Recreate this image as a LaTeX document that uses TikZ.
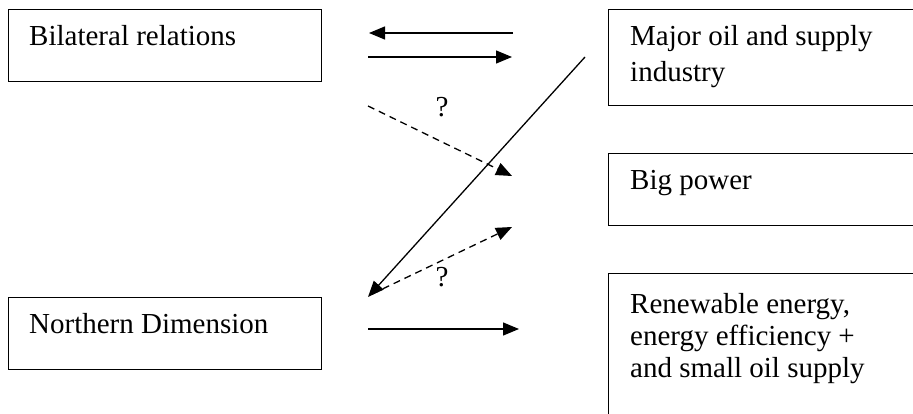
\documentclass[tikz,border=0pt]{standalone}
\usepackage{fontspec}
\setmainfont{Liberation Serif}
\usetikzlibrary{arrows.meta,positioning}

\begin{document}
\begin{tikzpicture}[x=1pt,y=-1pt,>={Triangle[length=16pt,width=13pt]},
    box/.style={draw,line width=1.4pt,anchor=north west,inner sep=0pt},
    txt/.style={anchor=base west,inner sep=0pt,align=left,
                font=\fontsize{29}{32}\selectfont},
    link/.style={->,line width=1.3pt},
    maybe/.style={->,line width=1.3pt,dash pattern=on 7pt off 5pt}]
    \useasboundingbox (0,0) rectangle (913,414);
    \clip (0,0) rectangle (913,414);

    % boxes
    \node[box,minimum width=313pt,minimum height=72pt]  (bilat) at (8,9)    {};
    \node[box,minimum width=330pt,minimum height=96pt]  (major) at (608,9)  {};
    \node[box,minimum width=330pt,minimum height=72pt]  (bigp)  at (608,153) {};
    \node[box,minimum width=330pt,minimum height=170pt] (renew) at (608,273) {};
    \node[box,minimum width=313pt,minimum height=72pt]  (north) at (8,297)  {};

    % texts (base = last line)
    \node[txt] (bilatT) at ([shift={(21,37)}]bilat.north west) {Bilateral relations};
    \node[txt] (majorT) at ([shift={(22,73)}]major.north west) {Major oil and supply\\[4pt]industry};
    \node[txt] (bigpT)  at ([shift={(22,37)}]bigp.north west)  {Big power};
    \node[txt] (renewT) at ([shift={(22,104)}]renew.north west) {Renewable energy,\\energy efficiency +\\and small oil supply};
    \node[txt] (northT) at ([shift={(21,36)}]north.north west) {Northern Dimension};

    % arrow ends
    \coordinate (fromMajor) at (513,33);
    \coordinate (toBilat)   at (369,33);
    \coordinate (fromBilat) at (368,57);
    \coordinate (toMajor)   at (512,57);
    \coordinate (askStart)  at (368,106);
    \coordinate (toBigp)    at (512,176);
    \coordinate (majorEnd)  at (585,57);
    \coordinate (toNorth)   at (368,297);
    \coordinate (askBack)   at (372,294);
    \coordinate (toBigp2)   at (512,227);
    \coordinate (fromNorth) at (368,329);
    \coordinate (toRenew)   at (519,329);

    \draw[link]  (fromMajor) -- (toBilat);
    \draw[link]  (fromBilat) -- (toMajor);
    \draw[maybe] (askStart)  -- (toBigp);
    \draw[link]  (majorEnd)  -- (toNorth);
    \draw[maybe] (askBack)   -- (toBigp2);
    \draw[link]  (fromNorth) -- (toRenew);

    \node[txt,anchor=center] (ask1) at (442,107) {?};
    \node[txt,anchor=center] (ask2) at (442,277) {?};
\end{tikzpicture}
\end{document}
